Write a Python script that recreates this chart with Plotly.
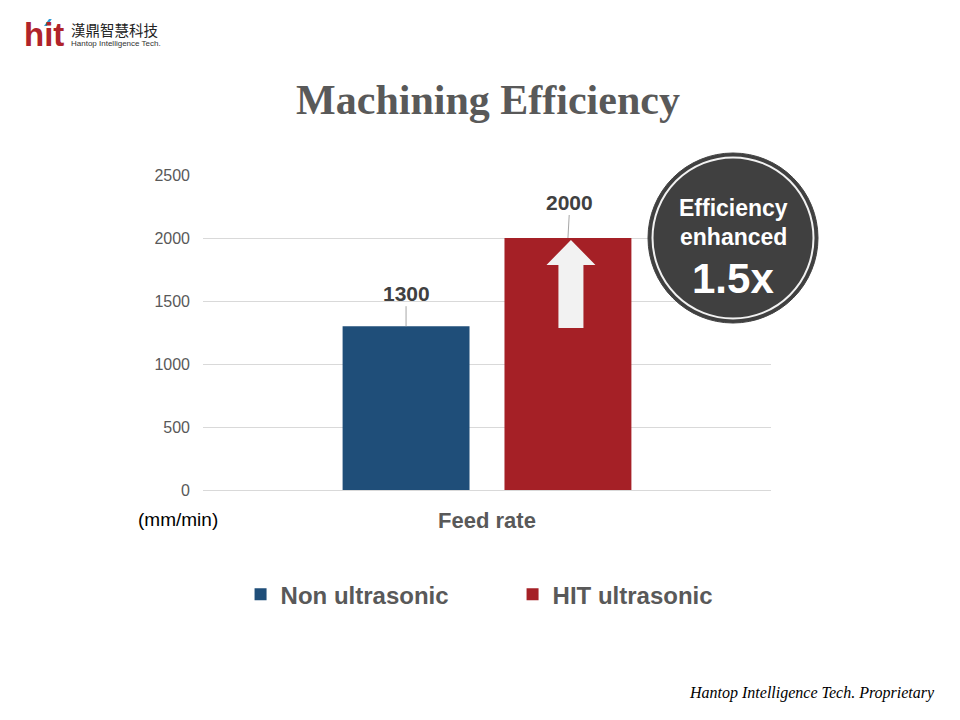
import plotly.graph_objects as go

categories = ["Feed rate"]
series_names = ["Non ultrasonic", "HIT ultrasonic"]
non_ultrasonic = [1300]
hit_ultrasonic = [2000]
y_ticks = [0, 500, 1000, 1500, 2000, 2500]
colors = ["#1F4E79", "#A52026"]

BARGAP = 0.43
fig = go.Figure()
for name, vals, col in zip(series_names, [non_ultrasonic, hit_ultrasonic], colors):
    fig.add_trace(go.Bar(x=categories, y=vals, name=name, marker=dict(color=col, line=dict(width=0))))

# bar centers in category units
slot = (1 - BARGAP) / 2
centers = [-slot / 2, slot / 2]


def px_to_paper(px, py):
    # screen pixel -> paper coords (plot area spans x 203..771, y 175..490 on screen)
    return (px - 203) / 568, (490 - py) / 315


annotations = []
for cx, vals, dx, dy in zip(centers, [non_ultrasonic, hit_ultrasonic], [0, 2], [-33, -36]):
    annotations.append(dict(x=cx, y=vals[0], xref="x", yref="y", text=f"<b>{vals[0]}</b>",
                            showarrow=True, arrowhead=0, arrowwidth=1, arrowcolor="#a6a6a6",
                            ax=dx, ay=dy, font=dict(family="Arial", size=21, color="#404040"),
                            standoff=0))

pixel_annots = [
    ("(mm/min)", 178, 519, dict(family="Arial", size=19, color="#000000"), "center"),
    ("<b>Efficiency</b>", 733, 208, dict(family="Arial", size=23, color="white"), "center"),
    ("<b>enhanced</b>", 733, 237, dict(family="Arial", size=23, color="white"), "center"),
    ("<b>1.5x</b>", 733, 278, dict(family="Arial", size=42, color="white"), "center"),
    ("<b>hit</b>", 22, 34, dict(family="Arial", size=33, color="#B0232A"), "left"),
    ("漢鼎智慧科技", 69, 29, dict(family="Noto Sans CJK TC", size=14.5, color="#222222"), "left"),
    ("Hantop Intelligence Tech.", 69, 44, dict(family="Arial", size=8, color="#333333"), "left"),
    ("<i>Hantop Intelligence Tech. Proprietary</i>", 937, 693,
     dict(family="Liberation Serif", size=16, color="#000000"), "right"),
]
for txt, px, py, fnt, xa in pixel_annots:
    x, y = px_to_paper(px, py)
    annotations.append(dict(x=x, y=y, xref="paper", yref="paper", text=txt, showarrow=False,
                            font=fnt, xanchor=xa, yanchor="middle"))

shapes = []
# up arrow inside red bar
cx = centers[1] + 3 / 568
hw, sw = 24.5 / 568, 12.5 / 568
tip, base, bottom = 1984, 1786, 1286
path = (f"M {cx} {tip} L {cx+hw} {base} L {cx+sw} {base} L {cx+sw} {bottom} "
        f"L {cx-sw} {bottom} L {cx-sw} {base} L {cx-hw} {base} Z")
shapes.append(dict(type="path", path=path, xref="x", yref="y", fillcolor="#F2F2F2", line=dict(width=0)))
# badge circle
x0, y0 = px_to_paper(648, 323)
x1, y1 = px_to_paper(818, 153)
shapes.append(dict(type="circle", xref="paper", yref="paper", x0=x0, y0=y0, x1=x1, y1=y1,
                   fillcolor="#404040", line=dict(color="#404040", width=1), layer="above"))
x0, y0 = px_to_paper(652.5, 318.5)
x1, y1 = px_to_paper(813.5, 157.5)
shapes.append(dict(type="circle", xref="paper", yref="paper", x0=x0, y0=y0, x1=x1, y1=y1,
                   fillcolor="rgba(0,0,0,0)", line=dict(color="#F2F2F2", width=2), layer="above"))
# blue dot on logo i
bx0, by0 = px_to_paper(44, 26)
bx1, by1 = px_to_paper(49, 19)
shapes.append(dict(type="path", xref="paper", yref="paper",
                   path=f"M {bx0} {by0} L {bx1} {by1} L {bx1+0.005} {by1} L {bx0+0.005} {by0} Z",
                   fillcolor="#2E9BD6", line=dict(width=0)))

fig.update_layout(
    width=960, height=720,
    margin=dict(l=195, r=197, t=167, b=238),
    paper_bgcolor="white", plot_bgcolor="white",
    barmode="group", bargap=BARGAP, bargroupgap=0.216,
    title=dict(text="<b>Machining Efficiency</b>", x=0.5, xanchor="center", y=1 - 91 / 720, yanchor="middle",
               font=dict(family="Liberation Serif", size=42, color="#595959")),
    xaxis=dict(range=[-0.5, 0.5], showgrid=False, showline=False, zeroline=False, ticks="",
               tickfont=dict(family="Arial", size=22, color="#595959", weight="bold"), ticklabelstandoff=15),
    yaxis=dict(range=[0, 2500], tickvals=y_ticks, showgrid=True, gridcolor="#D9D9D9", gridwidth=1,
               zeroline=True, zerolinecolor="#D9D9D9", zerolinewidth=1, showline=False, ticks="",
               tickfont=dict(family="Arial", size=16, color="#595959"), ticklabelstandoff=12),
    legend=dict(orientation="h", x=0.545, xanchor="center", y=-0.332, yanchor="middle",
                font=dict(family="Arial", size=24, color="#595959", weight="bold"),
                entrywidth=227, itemwidth=30),
    annotations=annotations, shapes=shapes,
    showlegend=True,
)

fig.write_html("out.html")
